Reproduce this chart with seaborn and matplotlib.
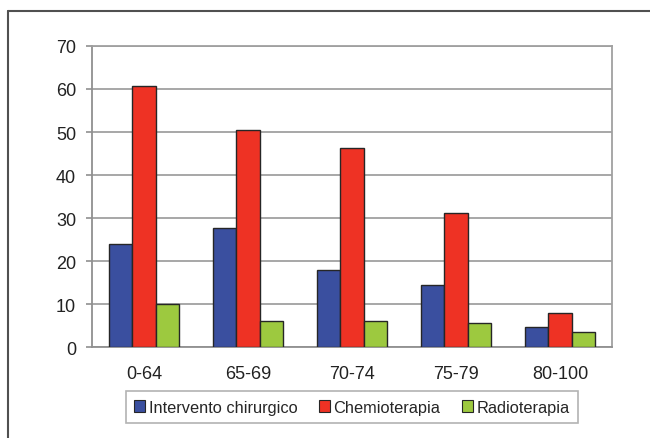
import matplotlib
matplotlib.use("Agg")
import matplotlib.pyplot as plt
from matplotlib.lines import Line2D
from matplotlib.ticker import FixedLocator
import seaborn as sns
import pandas as pd

# Age groups and percentage of patients per treatment
fasce_eta = ["0-64", "65-69", "70-74", "75-79", "80-100"]
trattamenti = ["Intervento chirurgico", "Chemioterapia", "Radioterapia"]
intervento = [24.0, 27.8, 18.0, 14.5, 4.6]
chemioterapia = [60.6, 50.5, 46.2, 31.1, 7.9]
radioterapia = [10.1, 6.0, 6.0, 5.6, 3.5]
y_ticks = [0, 10, 20, 30, 40, 50, 60, 70]

colori = ["#3a4f9f", "#ee3224", "#9dc93f"]

df = pd.DataFrame({
    "eta": fasce_eta * 3,
    "valore": intervento + chemioterapia + radioterapia,
    "trattamento": [t for t in trattamenti for _ in fasce_eta],
})

sns.set_theme(style="white")
plt.rcParams["font.family"] = ["Liberation Sans", "DejaVu Sans"]

fig = plt.figure(figsize=(6.5, 4.39), dpi=100)
ax = fig.add_axes([0.1415, 0.207, 0.80, 0.686])

sns.barplot(data=df, x="eta", y="valore", hue="trattamento", order=fasce_eta,
            hue_order=trattamenti, palette=colori, saturation=1, width=0.67,
            edgecolor="#262626", linewidth=1.0, ax=ax, zorder=3)

ax.set_ylim(0, 70)
ax.set_xlim(-0.5, len(fasce_eta) - 0.5)
ax.set_yticks(y_ticks)
ax.yaxis.grid(True, color="#a0a0a0", linewidth=1.3, zorder=0)
ax.set_axisbelow(True)
ax.set_xlabel("")
ax.set_ylabel("")

# Category separators as x ticks
ax.xaxis.set_minor_locator(FixedLocator([i - 0.5 for i in range(len(fasce_eta) + 1)]))
ax.tick_params(axis="x", which="major", length=0, pad=13, labelsize=13, colors="#222222")
ax.tick_params(axis="x", which="minor", length=4.5, width=1.2, color="#909090", direction="out")
ax.tick_params(axis="y", which="major", length=4.5, width=1.2, color="#909090", direction="out",
               pad=7, labelsize=13, labelcolor="#222222")
ax.tick_params(left=True, bottom=True)

for side in ["left", "bottom", "right", "top"]:
    ax.spines[side].set_color("#a0a0a0")
    ax.spines[side].set_linewidth(1.3)
ax.spines["left"].set_color("#909090")
ax.spines["bottom"].set_color("#909090")

leg = ax.legend(loc="center", bbox_to_anchor=(0.541, 0.0706), bbox_transform=fig.transFigure,
                ncol=3, frameon=True, fancybox=False, fontsize=11.8, handlelength=0.7,
                handleheight=0.7, handletextpad=0.2, columnspacing=1.3, borderpad=0.5,
                edgecolor="#a0a0a0")
leg.get_frame().set_linewidth(1.2)
for h in leg.legend_handles:
    h.set_edgecolor("#262626")
    h.set_linewidth(0.8)

# Chart area border
fig.add_artist(Line2D([0.0123, 1.0], [0.973, 0.973], transform=fig.transFigure,
                      color="#505050", linewidth=1.5))
fig.add_artist(Line2D([0.0123, 0.0123], [0.0, 0.973], transform=fig.transFigure,
                      color="#505050", linewidth=1.5))

fig.savefig("out.png", dpi=100)
